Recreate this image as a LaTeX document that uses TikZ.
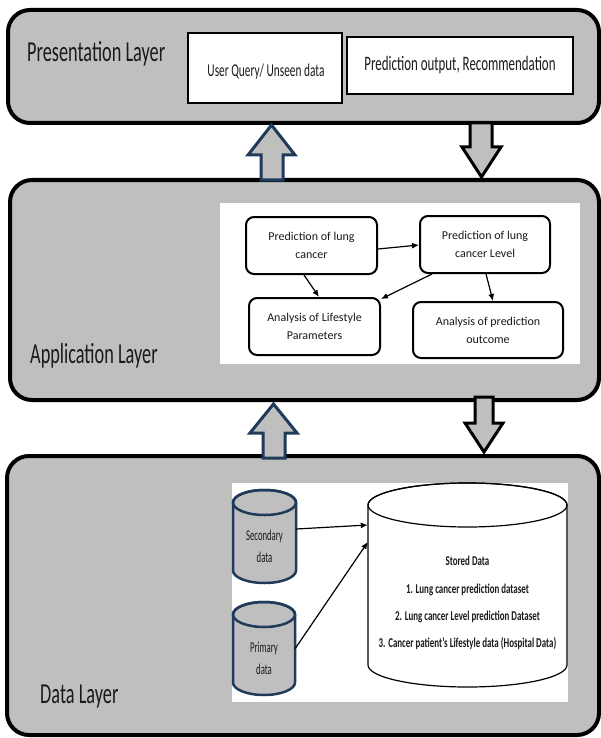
\documentclass[tikz,border=0pt]{standalone}
\usepackage{fontspec}
\setmainfont{Carlito}
\newfontfamily\lblfont[FakeStretch=0.63]{Carlito}
\newfontfamily\appfont{Carlito}
\newfontfamily\cylfont[FakeStretch=0.58]{Carlito}
\newfontfamily\storefont[FakeStretch=0.66]{Carlito}
\usetikzlibrary{arrows.meta}
\definecolor{laygray}{HTML}{BFBFBF}
\definecolor{navy}{HTML}{203A5A}
\definecolor{txt}{HTML}{1A1A1A}
\tikzset{
  layer/.style={draw=black, line width=4pt, fill=laygray, rounded corners=22pt, inner sep=0pt},
  layerlabel/.style={anchor=base west, text=txt, font=\lblfont\fontsize{29}{30}\selectfont, inner sep=0pt},
  presbox/.style={draw=black, line width=1.6pt, fill=white, inner sep=0pt},
  appbox/.style={draw=black, line width=2pt, rounded corners=8pt, fill=white, inner sep=0pt, align=center, text=txt, font=\appfont\fontsize{12}{18}\selectfont},
  panel/.style={fill=white, draw=none, inner sep=0pt},
  ghost/.style={draw=none, inner sep=0pt},
  uparrow/.style={draw=navy, line width=3pt, fill=laygray, line join=miter},
  downarrow/.style={draw=black, line width=3pt, fill=laygray, line join=miter},
  conn/.style={draw=black, line width=1.2pt, -{Latex[length=7pt,width=6pt]}},
  cylbody/.style={draw=navy, line width=2.5pt, fill=laygray},
  storebody/.style={draw=black, line width=1.2pt, fill=white},
}
\begin{document}
\begin{tikzpicture}[x=1pt,y=-1pt]
\useasboundingbox (0,0) rectangle (601,738);

% layers
\node[layer, minimum width=591pt, minimum height=113pt] (pres) at (303.5,66.5) {};
\node[layer, minimum width=589pt, minimum height=220pt] (app) at (304.5,290) {};
\node[layer, minimum width=592pt, minimum height=279pt] (data) at (303,595.5) {};

% layer labels
\node[layerlabel] (preslbl) at (27,62) {Presentation Layer};
\node[layerlabel] (applbl) at (30,363) {Application Layer};
\node[layerlabel] (datalbl) at (40,703) {Data Layer};

% presentation boxes
\node[presbox, minimum width=154pt, minimum height=70pt] (uq) at (265,68) {};
\node[anchor=base, font=\lblfont\fontsize{18}{20}\selectfont, text=txt, inner sep=0pt] (uqtxt) at (266,77) {User Query/ Unseen data};
\node[presbox, minimum width=226pt, minimum height=57pt, font=\lblfont\fontsize{20.5}{22}\selectfont, text=txt] (po) at (460,65.5) {Prediction output, Recommendation};

% block arrows between layers
\draw[uparrow] (261,180) -- (261,155) -- (248,155) -- (271.5,125) -- (295,155) -- (283,155) -- (283,180) -- cycle;
\draw[downarrow] (470,123) -- (470,147) -- (462,147) -- (481.5,177) -- (501,147) -- (492,147) -- (492,123) -- cycle;
\draw[uparrow] (263,458) -- (263,433) -- (250,433) -- (273.5,404) -- (297,433) -- (285,433) -- (285,458) -- cycle;
\draw[downarrow] (475,397) -- (475,423) -- (465,423) -- (484,452) -- (503,423) -- (493,423) -- (493,397) -- cycle;

% application panel
\node[panel, minimum width=360pt, minimum height=161pt] (apppanel) at (400,283.5) {};
\node[appbox, minimum width=131pt, minimum height=57pt] (plc) at (311.5,245.5) {Prediction of lung\\cancer};
\node[appbox, minimum width=130pt, minimum height=57pt] (plcl) at (485,244.5) {Prediction of lung\\cancer Level};
\node[appbox, minimum width=131pt, minimum height=57pt] (life) at (314.5,326.5) {Analysis of Lifestyle\\Parameters};
\node[appbox, minimum width=150pt, minimum height=56pt] (anl) at (488,330) {Analysis of prediction\\outcome};
\draw[conn] ([yshift=-3.5pt]plc.east) -- ([yshift=-0.5pt]plcl.west);
\draw[conn] ([xshift=-7.5pt]plc.south) -- ([xshift=4.5pt]life.north);
\draw[conn] ([xshift=-53pt]plcl.south) -- ([yshift=-2pt]life.north east);
\draw[conn] ([xshift=1pt]plcl.south) -- ([xshift=5pt]anl.north);

% data panel
\node[panel, minimum width=336pt, minimum height=219pt] (datapanel) at (400,592.5) {};

% secondary cylinder
\path[cylbody] (233,502.5) -- (233,570.5) arc[start angle=180, end angle=0, x radius=31.5, y radius=12.5]
  -- (296,502.5) arc[start angle=0, end angle=-180, x radius=31.5, y radius=12.5] -- cycle;
\draw[navy, line width=2.5pt] (264.5,502.5) ellipse[x radius=31.5, y radius=12.5];
\node[ghost, minimum width=63pt, minimum height=93pt] (sec) at (264.5,536.5) {};
\node[font=\cylfont\fontsize{15}{22}\selectfont, text=txt, align=center, inner sep=0pt] (sectxt) at (264.5,546) {Secondary\\data};

% primary cylinder
\path[cylbody] (233,614.5) -- (233,682.5) arc[start angle=180, end angle=0, x radius=31, y radius=12.5]
  -- (295,614.5) arc[start angle=0, end angle=-180, x radius=31, y radius=12.5] -- cycle;
\draw[navy, line width=2.5pt] (264,614.5) ellipse[x radius=31, y radius=12.5];
\node[ghost, minimum width=62pt, minimum height=93pt] (prim) at (264,648.5) {};
\node[font=\cylfont\fontsize{15}{22}\selectfont, text=txt, align=center, inner sep=0pt] (primtxt) at (264,658.5) {Primary\\data};

% stored data cylinder
\path[storebody] (368,505) -- (368,665) arc[start angle=180, end angle=0, x radius=99.5, y radius=22]
  -- (567,505) arc[start angle=0, end angle=-180, x radius=99.5, y radius=22] -- cycle;
\draw[black, line width=1.2pt] (467.5,505) ellipse[x radius=99.5, y radius=22];
\node[ghost, minimum width=199pt, minimum height=204pt] (store) at (467.5,585) {};
\node[font=\storefont\bfseries\fontsize{13.5}{27.3}\selectfont, text=txt, align=center, inner sep=0pt] (storetxt) at (467.5,603) {Stored Data\\1. Lung cancer prediction dataset\\2. Lung cancer Level prediction Dataset\\3. Cancer patient’s Lifestyle data (Hospital Data)};

\draw[conn] ([yshift=7.5pt]sec.east) -- ([yshift=60pt]store.west);
\draw[conn] (prim.east) -- ([yshift=43pt]store.west);
\end{tikzpicture}
\end{document}
